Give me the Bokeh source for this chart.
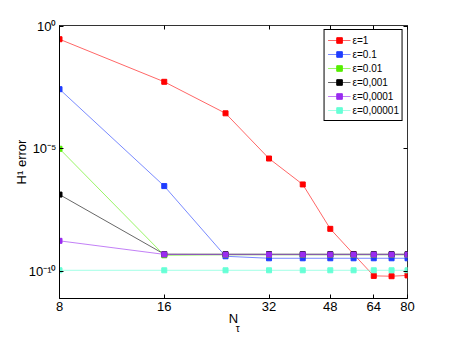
from bokeh.plotting import figure
from bokeh.models import FixedTicker, LogAxis, Legend, LegendItem
from bokeh.embed import file_html
from bokeh.resources import INLINE

# ---- data ----
N_tau = [8, 16, 24, 32, 40, 48, 56, 64, 72, 80]
err_eps_1 = [2.95e-1, 5.4e-3, 2.8e-4, 4.0e-6, 3.5e-7, 5.4e-9, 5.0e-10, 6.5e-11, 6.3e-11, 6.8e-11]
err_eps_01 = [2.7e-3, 3.0e-7, 4.1e-10, 3.4e-10, 3.4e-10, 3.4e-10, 3.4e-10, 3.4e-10, 3.4e-10, 3.4e-10]
err_eps_001 = [1.0e-5, 4.5e-10, 4.7e-10, 4.7e-10, 4.7e-10, 4.7e-10, 4.7e-10, 4.7e-10, 4.7e-10, 4.7e-10]
err_eps_0001 = [1.35e-7, 5.0e-10, 5.0e-10, 5.0e-10, 5.0e-10, 5.0e-10, 5.0e-10, 5.0e-10, 5.0e-10, 5.0e-10]
err_eps_00001 = [1.75e-9, 4.9e-10, 4.8e-10, 4.8e-10, 4.8e-10, 4.8e-10, 4.8e-10, 4.8e-10, 4.8e-10, 4.8e-10]
err_eps_000001 = [1.1e-10, 1.1e-10, 1.1e-10, 1.1e-10, 1.1e-10, 1.1e-10, 1.1e-10, 1.1e-10, 1.1e-10, 1.1e-10]

series_labels = ["ε=1", "ε=0.1", "ε=0.01", "ε=0,001", "ε=0,0001", "ε=0,00001"]
series_values = [err_eps_1, err_eps_01, err_eps_001, err_eps_0001, err_eps_00001, err_eps_000001]
series_colors = ["#ff0000", "#1f3cff", "#55ee00", "#000000", "#9a2cf0", "#66ffd6"]

x_ticks = [8, 16, 32, 48, 64, 80]
x_tick_labels = ["8", "16", "32", "48", "64", "80"]
y_ticks = [1e-10, 1e-5, 1.0]
y_tick_labels = ["10⁻¹⁰", "10⁻⁵", "10⁰"]

FONT = "Liberation Sans"
Y_LO, Y_HI = 10 ** -11.11, 10 ** 0.03
TAU_X = 26.0  # horizontal anchor of the subscript of the x-axis label

p = figure(width=434, height=336, x_axis_type="log", y_axis_type="log",
           x_range=(8, 80), y_range=(Y_LO, Y_HI),
           output_backend="svg", toolbar_location=None,
           min_border_left=59, min_border_right=27, min_border_top=25, min_border_bottom=37)
p.grid.visible = False
p.outline_line_color = "#333333"
p.outline_line_width = 1
p.background_fill_color = "white"
p.border_fill_color = "white"

p.xaxis[0].ticker = FixedTicker(ticks=x_ticks)
p.xaxis[0].major_label_overrides = {t: s for t, s in zip(x_ticks, x_tick_labels)}
p.yaxis[0].ticker = FixedTicker(ticks=y_ticks)
p.yaxis[0].major_label_overrides = {t: s for t, s in zip(y_ticks, y_tick_labels)}

for ax in [p.xaxis[0], p.yaxis[0]]:
    ax.major_tick_in = 4
    ax.major_tick_out = 0
    ax.minor_tick_line_color = None
    ax.axis_line_color = "black"
    ax.major_tick_line_color = "black"
    ax.major_label_text_font = FONT
    ax.major_label_text_font_size = "13px"
    ax.major_label_text_color = "black"
    ax.axis_label_text_font = FONT
    ax.axis_label_text_font_size = "13px"
    ax.axis_label_text_font_style = "normal"
    ax.axis_label_text_color = "black"

p.xaxis[0].major_label_standoff = 3
p.yaxis[0].major_label_standoff = 3
p.xaxis[0].axis_label = "N"
p.xaxis[0].axis_label_standoff = -3
p.yaxis[0].axis_label = "H¹ error"
p.yaxis[0].axis_label_standoff = -3

top_ax = LogAxis(ticker=FixedTicker(ticks=x_ticks), major_tick_in=4, major_tick_out=0,
                 minor_tick_line_color=None, major_label_text_font_size="6px",
                 major_label_text_color=None, axis_line_color=None, major_label_standoff=0)
right_ax = LogAxis(ticker=FixedTicker(ticks=y_ticks), major_tick_in=4, major_tick_out=0,
                   minor_tick_line_color=None, major_label_text_font_size="6px",
                   major_label_text_color=None, axis_line_color=None, major_label_standoff=0)
p.add_layout(top_ax, "above")
p.add_layout(right_ax, "right")

# subscript "τ" of the x-axis label N_τ, drawn as the single tick label of a bare axis
tau_ax = LogAxis(ticker=FixedTicker(ticks=[TAU_X]), major_label_overrides={TAU_X: "τ"},
                 axis_line_color=None, major_tick_line_color=None, minor_tick_line_color=None,
                 major_tick_in=0, major_tick_out=0, major_label_standoff=-6,
                 major_label_text_font=FONT, major_label_text_font_size="10px",
                 major_label_text_color="black")
p.add_layout(tau_ax, "below")

items = []
for lab, vals, col in zip(series_labels, series_values, series_colors):
    ln = p.line(N_tau, vals, line_color=col, line_width=1, line_alpha=0.6)
    sc = p.scatter(N_tau, vals, marker="square", size=5, fill_color=col, line_color=col)
    items.append(LegendItem(label=lab, renderers=[ln, sc]))

legend = Legend(items=items, location="top_right", border_line_color="black",
                border_line_width=1, border_line_alpha=1,
                label_text_font=FONT, label_text_font_size="10px", label_text_color="black",
                spacing=0, padding=3, margin=4, glyph_width=23, glyph_height=14,
                label_height=14, label_standoff=2, background_fill_alpha=1)
p.add_layout(legend)

open("out.html", "w").write(file_html(p, INLINE))
